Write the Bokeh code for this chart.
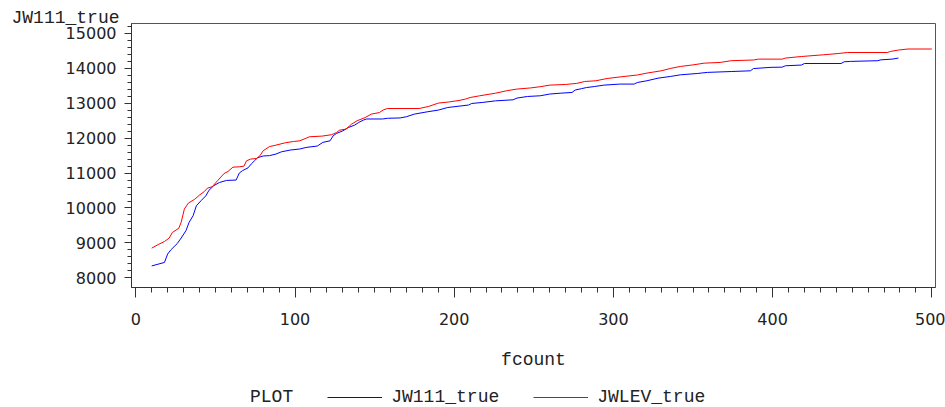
from bokeh.plotting import figure
from bokeh.layouts import column
from bokeh.models import Range1d, FixedTicker, Legend, LegendItem
from bokeh.embed import file_html
from bokeh.resources import INLINE

# ---- data ----
jw111_x = [10, 14, 18, 20, 22, 26, 28.5, 31.5, 33.5, 36, 38, 41, 44, 46, 49, 52.5, 57, 63, 65, 67,
           70.5, 72.5, 74.5, 76.5, 80, 84, 88, 91.5, 97, 103, 107, 114, 117.5, 122, 124, 126, 130,
           133.5, 137.5, 140, 143, 145, 155, 158, 166, 170, 175, 183, 190, 196, 209, 211, 218, 226,
           237, 239.5, 246, 254, 260, 267, 274, 276, 280, 283, 288, 294, 304, 313, 315, 321, 328,
           336, 342, 353, 359, 374, 386, 388, 399, 406, 408, 418, 420, 443, 445, 449, 466, 468,
           475, 479]
jw111_y = [8340, 8390, 8440, 8680, 8800, 8980, 9140, 9350, 9590, 9780, 10060, 10210, 10350, 10510,
           10640, 10730, 10790, 10800, 11000, 11070, 11150, 11260, 11350, 11440, 11490, 11500,
           11545, 11610, 11660, 11690, 11735, 11775, 11880, 11925, 12070, 12135, 12210, 12305,
           12375, 12450, 12520, 12550, 12550, 12570, 12580, 12615, 12690, 12755, 12805, 12880,
           12950, 12995, 13025, 13070, 13100, 13150, 13195, 13215, 13265, 13290, 13310, 13380,
           13420, 13450, 13480, 13520, 13550, 13550, 13595, 13645, 13720, 13770, 13815, 13855,
           13885, 13910, 13930, 13995, 14030, 14035, 14075, 14095, 14140, 14140, 14190, 14200,
           14220, 14245, 14265, 14295]

jwlev_x = [10, 14, 18, 21, 23, 27, 28.5, 30.5, 33, 37, 40, 43, 45, 48, 51.5, 55.5, 58, 61, 65, 68,
           69.5, 72, 76, 78, 80, 84, 88, 94, 99, 103, 107, 109, 117, 123, 126, 128, 132, 135.5, 139,
           144, 148, 153, 155.5, 158, 178, 184, 190, 197, 203, 207, 210, 216, 226, 233, 239, 248,
           254, 260, 270, 277, 282, 289, 296, 306, 315, 321, 330, 336, 342, 350, 357, 367, 374,
           388, 391, 406, 408, 418, 432, 441, 447, 472, 474, 479, 485, 500]
jwlev_y = [8850, 8950, 9040, 9140, 9300, 9420, 9590, 9970, 10140, 10250, 10370, 10470, 10570,
           10610, 10790, 10990, 11050, 11170, 11180, 11200, 11350, 11400, 11420, 11500, 11640,
           11760, 11800, 11870, 11905, 11925, 12000, 12040, 12060, 12100, 12160, 12230, 12260,
           12400, 12500, 12590, 12690, 12735, 12810, 12850, 12850, 12910, 13005, 13040, 13080,
           13120, 13165, 13215, 13290, 13360, 13405, 13440, 13475, 13520, 13540, 13570, 13625,
           13645, 13710, 13765, 13810, 13865, 13930, 14000, 14055, 14100, 14150, 14170, 14220,
           14240, 14265, 14265, 14295, 14340, 14390, 14425, 14455, 14455, 14485, 14525, 14555,
           14555]

x_ticks = [0, 100, 200, 300, 400, 500]
x_minor = list(range(0, 501, 10))
y_ticks = [8000, 9000, 10000, 11000, 12000, 13000, 14000, 15000]
y_minor = list(range(8000, 15201, 200))

series_names = ["JW111_true", "JWLEV_true"]
series_colors = ["#0000ff", "#ff0000"]
y_title = "JW111_true"
x_title = "fcount"
legend_title = "PLOT"

MONO = "Liberation Mono"
SANS = "DejaVu Sans"
TXT = "#222222"

# ---------------- main chart ----------------
p = figure(width=945, height=380,
           min_border_left=131, min_border_right=10, min_border_top=23, min_border_bottom=93,
           x_range=Range1d(-2.7, 502.3), y_range=Range1d(7722, 15286),
           output_backend="svg", toolbar_location=None)
p.background_fill_color = "white"
p.border_fill_color = "white"
p.outline_line_color = "#555555"
p.outline_line_width = 1
p.xgrid.grid_line_color = None
p.ygrid.grid_line_color = None

# y-axis title sits at the top-left corner, horizontal
p.title.text = y_title
p.title.align = "left"
p.title.offset = -120
p.title.standoff = -8
p.title.text_font = MONO
p.title.text_font_size = "18px"
p.title.text_font_style = "normal"
p.title.text_color = TXT

xa = p.xaxis[0]
xa.ticker = FixedTicker(ticks=x_ticks, minor_ticks=x_minor)
xa.major_tick_out = 10
xa.major_tick_in = 0
xa.minor_tick_out = 5
xa.minor_tick_in = 0
xa.axis_line_color = "#333333"
xa.major_tick_line_color = "#333333"
xa.minor_tick_line_color = "#333333"
xa.major_label_text_font = SANS
xa.major_label_text_font_size = "16px"
xa.major_label_text_color = TXT
xa.major_label_standoff = 15
xa.axis_label = x_title
xa.axis_label_text_font = MONO
xa.axis_label_text_font_size = "18px"
xa.axis_label_text_font_style = "normal"
xa.axis_label_text_color = TXT
xa.axis_label_standoff = 22

ya = p.yaxis[0]
ya.ticker = FixedTicker(ticks=y_ticks, minor_ticks=y_minor)
ya.major_tick_out = 7
ya.major_tick_in = 0
ya.minor_tick_out = 4
ya.minor_tick_in = 0
ya.axis_line_color = "#333333"
ya.major_tick_line_color = "#333333"
ya.minor_tick_line_color = "#333333"
ya.major_label_text_font = SANS
ya.major_label_text_font_size = "16px"
ya.major_label_text_color = TXT
ya.major_label_standoff = 8

p.line(jw111_x, jw111_y, line_color=series_colors[0], line_width=1)
p.line(jwlev_x, jwlev_y, line_color=series_colors[1], line_width=1)

# ---------------- legend strip ----------------
# its frame is aligned with the main chart's frame by the column layout
lg = figure(width=945, height=27, min_border=0,
            x_range=Range1d(0, 1), y_range=Range1d(0, 1),
            output_backend="svg", toolbar_location=None)
lg.axis.visible = False
lg.xgrid.grid_line_color = None
lg.ygrid.grid_line_color = None
lg.outline_line_color = None
lg.background_fill_color = "white"
lg.border_fill_color = "white"

# series drawn out of this strip's view only so the legend has swatches to show
k0 = lg.line(jw111_x, jw111_y, line_alpha=0)
k1 = lg.line(jw111_x, jw111_y, line_color=series_colors[0], line_width=1)
k2 = lg.line(jwlev_x, jwlev_y, line_color=series_colors[1], line_width=1)

legend = Legend(items=[LegendItem(label=legend_title, renderers=[k0]),
                       LegendItem(label=series_names[0], renderers=[k1]),
                       LegendItem(label=series_names[1], renderers=[k2])],
                orientation="horizontal", location=(55, 0),
                glyph_width=55, glyph_height=18, label_standoff=9, spacing=34,
                padding=0, margin=0, border_line_color=None, background_fill_alpha=0,
                label_text_font=MONO, label_text_font_size="18px", label_text_color=TXT,
                label_height=18)
lg.add_layout(legend, "center")

layout = column(p, lg, spacing=0)
open("out.html", "w").write(file_html(layout, INLINE))
